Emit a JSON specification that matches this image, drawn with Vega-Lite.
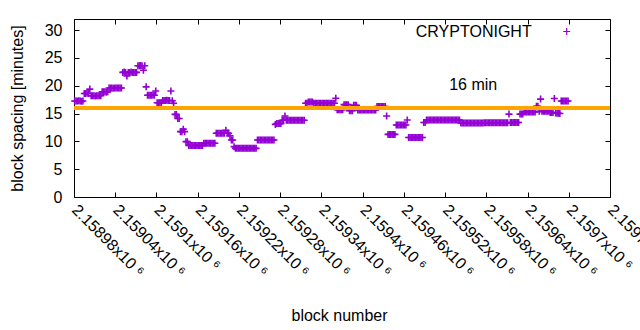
{
"$schema": "https://vega.github.io/schema/vega-lite/v6.json",
"width": 536, "height": 178,
"autosize": {"type": "none"},
"padding": {"left": 74, "top": 19, "right": 30, "bottom": 133},
"background": "white",
"config": {
  "font": "Liberation Sans",
  "view": {"stroke": "black", "strokeWidth": 1},
  "axis": {"labelFont": "Liberation Sans", "titleFont": "Liberation Sans", "labelFontSize": 16, "titleFontSize": 16, "titleFontWeight": "normal", "labelColor": "black", "titleColor": "black", "tickColor": "black", "grid": false, "domain": false, "tickSize": -5, "labelOverlap": false, "labelFlush": false}
},
"data": {"values": [
{"block":2158981,"min":17.25},{"block":2158983,"min":17.25},{"block":2158985,"min":17.25},{"block":2158987,"min":17.3},{"block":2158989,"min":17.25},{"block":2158991,"min":17.2},{"block":2158993,"min":17.25},{"block":2158995,"min":18.6},{"block":2158997,"min":18.6},{"block":2158999,"min":18.7},
{"block":2159001,"min":18.6},{"block":2159003,"min":19.4},{"block":2159005,"min":18.2},{"block":2159007,"min":18.2},{"block":2159009,"min":18.2},{"block":2159011,"min":18.15},{"block":2159013,"min":18.2},{"block":2159015,"min":18.2},{"block":2159017,"min":18.2},{"block":2159019,"min":18.2},
{"block":2159021,"min":18.9},{"block":2159023,"min":18.9},{"block":2159025,"min":18.9},{"block":2159027,"min":18.85},{"block":2159029,"min":18.9},{"block":2159031,"min":19.6},{"block":2159033,"min":19.6},{"block":2159035,"min":19.6},{"block":2159037,"min":19.55},{"block":2159039,"min":19.6},
{"block":2159041,"min":19.6},{"block":2159043,"min":19.6},{"block":2159045,"min":19.6},{"block":2159047,"min":19.6},{"block":2159049,"min":19.6},{"block":2159051,"min":22.4},{"block":2159053,"min":22.45},{"block":2159055,"min":22.4},{"block":2159057,"min":21.75},{"block":2159059,"min":22.4},
{"block":2159061,"min":22.4},{"block":2159063,"min":22.45},{"block":2159065,"min":22.4},{"block":2159067,"min":22.4},{"block":2159069,"min":22.4},{"block":2159071,"min":22.4},{"block":2159073,"min":23.6},{"block":2159075,"min":23.6},{"block":2159077,"min":23.65},{"block":2159079,"min":23.6},
{"block":2159081,"min":22.8},{"block":2159083,"min":23.6},{"block":2159085,"min":19.8},{"block":2159087,"min":18.3},{"block":2159089,"min":18.3},{"block":2159091,"min":18.3},{"block":2159093,"min":18.3},{"block":2159095,"min":18.35},{"block":2159097,"min":18.3},{"block":2159099,"min":19.05},
{"block":2159101,"min":16.95},{"block":2159103,"min":16.95},{"block":2159105,"min":16.95},{"block":2159107,"min":16.95},{"block":2159109,"min":17.35},{"block":2159111,"min":17.35},{"block":2159113,"min":17.35},{"block":2159115,"min":17.4},{"block":2159117,"min":17.35},{"block":2159119,"min":17.35},
{"block":2159121,"min":19.05},{"block":2159123,"min":17.3},{"block":2159125,"min":16.85},{"block":2159127,"min":14.85},{"block":2159129,"min":14.85},{"block":2159131,"min":14.1},{"block":2159133,"min":14.1},{"block":2159135,"min":11.75},{"block":2159137,"min":11.75},{"block":2159139,"min":12.2},
{"block":2159141,"min":11.75},{"block":2159143,"min":9.95},{"block":2159145,"min":9.95},{"block":2159147,"min":9.25},{"block":2159149,"min":9.25},{"block":2159151,"min":9.25},{"block":2159153,"min":9.25},{"block":2159155,"min":9.25},{"block":2159157,"min":9.25},{"block":2159159,"min":9.25},
{"block":2159161,"min":9.25},{"block":2159163,"min":9.25},{"block":2159165,"min":9.25},{"block":2159167,"min":9.25},{"block":2159169,"min":9.65},{"block":2159171,"min":9.65},{"block":2159173,"min":9.65},{"block":2159175,"min":9.65},{"block":2159177,"min":9.65},{"block":2159179,"min":9.65},
{"block":2159181,"min":9.65},{"block":2159183,"min":9.65},{"block":2159185,"min":9.65},{"block":2159187,"min":11.45},{"block":2159189,"min":11.45},{"block":2159191,"min":11.45},{"block":2159193,"min":11.45},{"block":2159195,"min":11.45},{"block":2159197,"min":11.45},{"block":2159199,"min":11.45},
{"block":2159201,"min":12.0},{"block":2159203,"min":11.45},{"block":2159205,"min":11.45},{"block":2159207,"min":11.0},{"block":2159209,"min":10.25},{"block":2159211,"min":10.25},{"block":2159213,"min":9.05},{"block":2159215,"min":8.75},{"block":2159217,"min":8.75},{"block":2159219,"min":8.75},
{"block":2159221,"min":8.75},{"block":2159223,"min":8.75},{"block":2159225,"min":8.75},{"block":2159227,"min":8.75},{"block":2159229,"min":8.75},{"block":2159231,"min":8.75},{"block":2159233,"min":8.75},{"block":2159235,"min":8.75},{"block":2159237,"min":8.75},{"block":2159239,"min":8.75},
{"block":2159241,"min":8.75},{"block":2159243,"min":8.75},{"block":2159245,"min":8.75},{"block":2159247,"min":10.25},{"block":2159249,"min":10.25},{"block":2159251,"min":10.25},{"block":2159253,"min":10.25},{"block":2159255,"min":10.25},{"block":2159257,"min":10.25},{"block":2159259,"min":10.25},
{"block":2159261,"min":10.25},{"block":2159263,"min":10.25},{"block":2159265,"min":10.25},{"block":2159267,"min":10.25},{"block":2159269,"min":10.25},{"block":2159271,"min":10.25},{"block":2159273,"min":13.05},{"block":2159275,"min":13.2},{"block":2159277,"min":13.2},{"block":2159279,"min":13.2},
{"block":2159281,"min":13.2},{"block":2159283,"min":13.8},{"block":2159285,"min":13.8},{"block":2159287,"min":14.55},{"block":2159289,"min":13.8},{"block":2159291,"min":13.8},{"block":2159293,"min":13.8},{"block":2159295,"min":13.8},{"block":2159297,"min":13.8},{"block":2159299,"min":13.8},
{"block":2159301,"min":13.8},{"block":2159303,"min":13.8},{"block":2159305,"min":13.8},{"block":2159307,"min":13.8},{"block":2159309,"min":13.8},{"block":2159311,"min":13.8},{"block":2159313,"min":13.8},{"block":2159315,"min":13.8},{"block":2159317,"min":16.85},{"block":2159319,"min":16.85},
{"block":2159321,"min":17.1},{"block":2159323,"min":17.1},{"block":2159325,"min":17.1},{"block":2159327,"min":17.1},{"block":2159329,"min":16.85},{"block":2159331,"min":16.85},{"block":2159333,"min":16.85},{"block":2159335,"min":16.85},{"block":2159337,"min":16.85},{"block":2159339,"min":16.85},
{"block":2159341,"min":16.85},{"block":2159343,"min":16.85},{"block":2159345,"min":16.85},{"block":2159347,"min":16.85},{"block":2159349,"min":16.85},{"block":2159351,"min":16.85},{"block":2159353,"min":16.85},{"block":2159355,"min":16.85},{"block":2159357,"min":16.85},{"block":2159359,"min":16.85},
{"block":2159361,"min":17.75},{"block":2159363,"min":15.7},{"block":2159365,"min":15.7},{"block":2159367,"min":15.7},{"block":2159369,"min":15.7},{"block":2159371,"min":15.7},{"block":2159373,"min":16.6},{"block":2159375,"min":16.6},{"block":2159377,"min":16.6},{"block":2159379,"min":16.6},
{"block":2159381,"min":15.5},{"block":2159383,"min":15.5},{"block":2159385,"min":15.5},{"block":2159387,"min":16.5},{"block":2159389,"min":16.5},{"block":2159391,"min":16.5},{"block":2159393,"min":15.65},{"block":2159395,"min":15.65},{"block":2159397,"min":15.65},{"block":2159399,"min":15.65},
{"block":2159401,"min":15.65},{"block":2159403,"min":15.65},{"block":2159405,"min":15.65},{"block":2159407,"min":15.65},{"block":2159409,"min":15.65},{"block":2159411,"min":15.65},{"block":2159413,"min":15.65},{"block":2159415,"min":15.65},{"block":2159417,"min":15.65},{"block":2159419,"min":15.65},
{"block":2159421,"min":16.25},{"block":2159423,"min":16.25},{"block":2159425,"min":16.25},{"block":2159427,"min":16.25},{"block":2159429,"min":16.25},{"block":2159431,"min":16.25},{"block":2159433,"min":16.25},{"block":2159435,"min":14.55},{"block":2159437,"min":11.25},{"block":2159439,"min":11.25},
{"block":2159441,"min":11.25},{"block":2159443,"min":11.25},{"block":2159445,"min":11.25},{"block":2159447,"min":11.25},{"block":2159449,"min":12.95},{"block":2159451,"min":12.95},{"block":2159453,"min":12.95},{"block":2159455,"min":12.95},{"block":2159457,"min":12.95},{"block":2159459,"min":12.95},
{"block":2159461,"min":12.95},{"block":2159463,"min":12.95},{"block":2159465,"min":13.85},{"block":2159467,"min":10.7},{"block":2159469,"min":10.7},{"block":2159471,"min":10.7},{"block":2159473,"min":10.7},{"block":2159475,"min":10.7},{"block":2159477,"min":10.7},{"block":2159479,"min":10.7},
{"block":2159481,"min":10.7},{"block":2159483,"min":10.7},{"block":2159485,"min":10.7},{"block":2159487,"min":10.7},{"block":2159489,"min":13.4},{"block":2159491,"min":13.4},{"block":2159493,"min":13.85},{"block":2159495,"min":13.85},{"block":2159497,"min":13.85},{"block":2159499,"min":13.85},
{"block":2159501,"min":13.85},{"block":2159503,"min":13.85},{"block":2159505,"min":13.85},{"block":2159507,"min":13.85},{"block":2159509,"min":13.85},{"block":2159511,"min":13.85},{"block":2159513,"min":13.85},{"block":2159515,"min":13.85},{"block":2159517,"min":13.85},{"block":2159519,"min":13.85},
{"block":2159521,"min":13.85},{"block":2159523,"min":13.85},{"block":2159525,"min":13.85},{"block":2159527,"min":13.85},{"block":2159529,"min":13.85},{"block":2159531,"min":13.85},{"block":2159533,"min":13.85},{"block":2159535,"min":13.85},{"block":2159537,"min":13.85},{"block":2159539,"min":13.85},
{"block":2159541,"min":13.85},{"block":2159543,"min":13.3},{"block":2159545,"min":13.3},{"block":2159547,"min":13.3},{"block":2159549,"min":13.3},{"block":2159551,"min":13.3},{"block":2159553,"min":13.3},{"block":2159555,"min":13.3},{"block":2159557,"min":13.3},{"block":2159559,"min":13.3},
{"block":2159561,"min":13.3},{"block":2159563,"min":13.3},{"block":2159565,"min":13.3},{"block":2159567,"min":13.3},{"block":2159569,"min":13.3},{"block":2159571,"min":13.3},{"block":2159573,"min":13.3},{"block":2159575,"min":13.3},{"block":2159577,"min":13.35},{"block":2159579,"min":13.35},
{"block":2159581,"min":13.35},{"block":2159583,"min":13.35},{"block":2159585,"min":13.35},{"block":2159587,"min":13.35},{"block":2159589,"min":13.35},{"block":2159591,"min":13.35},{"block":2159593,"min":13.35},{"block":2159595,"min":13.35},{"block":2159597,"min":13.35},{"block":2159599,"min":13.35},
{"block":2159601,"min":13.35},{"block":2159603,"min":13.35},{"block":2159605,"min":13.35},{"block":2159607,"min":13.35},{"block":2159609,"min":13.35},{"block":2159611,"min":13.35},{"block":2159613,"min":14.9},{"block":2159615,"min":13.4},{"block":2159617,"min":13.4},{"block":2159619,"min":13.4},
{"block":2159621,"min":13.4},{"block":2159623,"min":13.4},{"block":2159625,"min":13.4},{"block":2159627,"min":13.4},{"block":2159629,"min":14.9},{"block":2159631,"min":14.9},{"block":2159633,"min":14.9},{"block":2159635,"min":15.3},{"block":2159637,"min":15.3},{"block":2159639,"min":15.3},
{"block":2159641,"min":15.3},{"block":2159643,"min":15.3},{"block":2159645,"min":15.3},{"block":2159647,"min":15.3},{"block":2159649,"min":15.3},{"block":2159651,"min":15.3},{"block":2159653,"min":16.3},{"block":2159655,"min":16.3},{"block":2159657,"min":15.4},{"block":2159659,"min":17.6},
{"block":2159661,"min":15.4},{"block":2159663,"min":15.4},{"block":2159665,"min":15.4},{"block":2159667,"min":15.4},{"block":2159669,"min":15.4},{"block":2159671,"min":15.4},{"block":2159673,"min":15.2},{"block":2159675,"min":15.2},{"block":2159677,"min":15.2},{"block":2159679,"min":17.7},
{"block":2159681,"min":15.1},{"block":2159683,"min":15.05},{"block":2159685,"min":15.05},{"block":2159687,"min":15.0},{"block":2159689,"min":17.25},{"block":2159691,"min":17.25},{"block":2159693,"min":17.25},{"block":2159695,"min":17.25},{"block":2159697,"min":17.25},{"block":2159699,"min":17.25}
]},
"resolve": {"axis": {"x": "independent", "y": "independent"}},
"layer": [
  {"mark": {"type": "point", "shape": "M-1,0H1M0,-1V1", "filled": false, "color": "#9400D3", "strokeWidth": 1.6, "size": 49, "opacity": 1},
   "encoding": {
     "x": {"field": "block", "type": "quantitative", "scale": {"domain": [2158980, 2159760], "nice": false, "zero": false},
       "axis": {"orient": "bottom", "values": [2158980,2159040,2159100,2159160,2159220,2159280,2159340,2159400,2159460,2159520,2159580,2159640,2159700,2159760],
         "labelExpr": "format(datum.value/1e6,'.5~f')+'x10 ⁶'", "labelAngle": 45, "labelAlign": "left", "labelBaseline": "middle", "labelPadding": 15,
         "title": "block number", "titleX": 265, "titleY": 118, "titleAlign": "center", "titleBaseline": "middle", "titleAnchor": null}},
     "y": {"field": "min", "type": "quantitative", "scale": {"domain": [0, 32], "nice": false, "zero": false},
       "axis": {"orient": "left", "values": [0,5,10,15,20,25,30], "labelPadding": 17, "labelAlign": "right", "labelBaseline": "middle",
         "title": "block spacing [minutes]", "titleX": -57, "titleY": 89, "titleAngle": -90, "titleAlign": "center", "titleBaseline": "middle", "titleAnchor": null}}
   }},
  {"mark": {"type": "point", "opacity": 0},
   "encoding": {
     "x": {"field": "block", "type": "quantitative", "scale": {"domain": [2158980, 2159760], "nice": false, "zero": false},
       "axis": {"orient": "top", "values": [2158980,2159040,2159100,2159160,2159220,2159280,2159340,2159400,2159460,2159520,2159580,2159640,2159700,2159760], "labels": false, "title": null}},
     "y": {"field": "min", "type": "quantitative", "scale": {"domain": [0, 32], "nice": false, "zero": false},
       "axis": {"orient": "right", "values": [0,5,10,15,20,25,30], "labels": false, "title": null}}
   }},
  {"data": {"values": [{}]},
   "mark": {"type": "rule", "color": "#FFA500", "strokeWidth": 4},
   "encoding": {"y": {"datum": 16, "type": "quantitative", "scale": {"domain": [0, 32], "nice": false, "zero": false}, "axis": null}}},
  {"data": {"values": [{}]},
   "mark": {"type": "text", "text": "CRYPTONIGHT", "align": "right", "baseline": "middle", "fontSize": 16, "font": "Liberation Sans", "color": "black"},
   "encoding": {
     "x": {"datum": 2159646, "type": "quantitative", "scale": {"domain": [2158980, 2159760], "nice": false, "zero": false}, "axis": null},
     "y": {"datum": 29.75, "type": "quantitative", "scale": {"domain": [0, 32], "nice": false, "zero": false}, "axis": null}}},
  {"data": {"values": [{}]},
   "mark": {"type": "point", "shape": "M-1,0H1M0,-1V1", "filled": false, "color": "#9400D3", "strokeWidth": 1.2, "size": 49, "opacity": 1},
   "encoding": {
     "x": {"datum": 2159697, "type": "quantitative", "scale": {"domain": [2158980, 2159760], "nice": false, "zero": false}, "axis": null},
     "y": {"datum": 29.75, "type": "quantitative", "scale": {"domain": [0, 32], "nice": false, "zero": false}, "axis": null}}},
  {"data": {"values": [{}]},
   "mark": {"type": "text", "text": "16 min", "align": "left", "baseline": "middle", "fontSize": 16, "font": "Liberation Sans", "color": "black"},
   "encoding": {
     "x": {"datum": 2159526, "type": "quantitative", "scale": {"domain": [2158980, 2159760], "nice": false, "zero": false}, "axis": null},
     "y": {"datum": 20.05, "type": "quantitative", "scale": {"domain": [0, 32], "nice": false, "zero": false}, "axis": null}}}
]
}
